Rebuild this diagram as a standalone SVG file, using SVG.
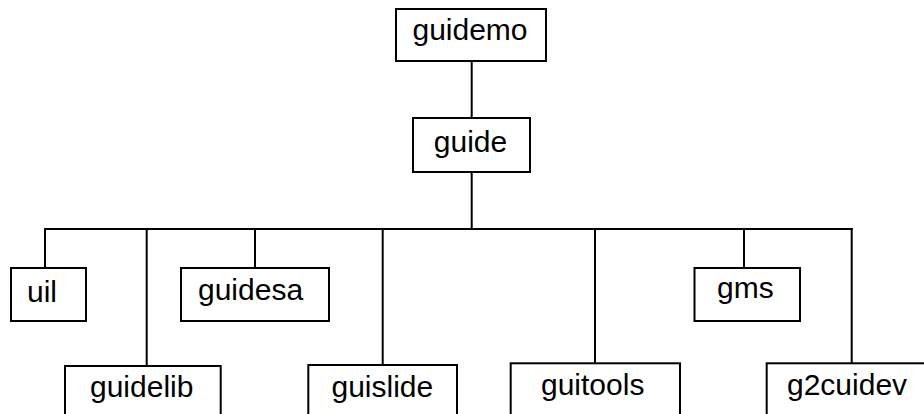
<svg xmlns="http://www.w3.org/2000/svg" width="924" height="414" viewBox="0 0 924 414">
<style>
.box{fill:#fff;stroke:#000;stroke-width:2}
.ln{stroke:#000;stroke-width:2;fill:none}
text{font-family:"Liberation Sans",Arial,sans-serif;font-size:30px;fill:#000}
</style>
<rect width="924" height="414" fill="#fff"/>
<g id="connectors">
<line class="ln" x1="471.7" y1="61" x2="471.7" y2="118"/>
<line class="ln" x1="471.7" y1="172" x2="471.7" y2="230"/>
<line class="ln" x1="44" y1="229" x2="852.7" y2="229"/>
<line class="ln" x1="45" y1="229" x2="45" y2="268"/>
<line class="ln" x1="146.7" y1="229" x2="146.7" y2="366"/>
<line class="ln" x1="255" y1="229" x2="255" y2="268"/>
<line class="ln" x1="382.7" y1="229" x2="382.7" y2="365"/>
<line class="ln" x1="595" y1="229" x2="595" y2="363"/>
<line class="ln" x1="744" y1="229" x2="744" y2="268"/>
<line class="ln" x1="851.7" y1="228" x2="851.7" y2="363"/>
</g>
<g id="guidemo"><rect class="box" x="396" y="9" width="150" height="52"/><text x="470" y="40" text-anchor="middle">guidemo</text></g>
<g id="guide"><rect class="box" x="413" y="118" width="117" height="54"/><text x="470.5" y="152" text-anchor="middle">guide</text></g>
<g id="uil"><rect class="box" x="11" y="268" width="75" height="53"/><text x="27" y="302">uil</text></g>
<g id="guidesa"><rect class="box" x="181" y="268" width="148" height="53"/><text x="198" y="300">guidesa</text></g>
<g id="gms"><rect class="box" x="694.5" y="268" width="105.5" height="53"/><text x="717" y="298">gms</text></g>
<g id="guidelib"><rect class="box" x="65" y="366" width="155.7" height="70"/><text x="90" y="397">guidelib</text></g>
<g id="guislide"><rect class="box" x="308.3" y="365" width="148.7" height="70"/><text x="331.5" y="397">guislide</text></g>
<g id="guitools"><rect class="box" x="510.7" y="363.3" width="169.3" height="70"/><text x="541" y="395">guitools</text></g>
<g id="g2cuidev"><rect class="box" x="766.7" y="363.3" width="170" height="70"/><text x="787" y="395">g2cuidev</text></g>
</svg>
